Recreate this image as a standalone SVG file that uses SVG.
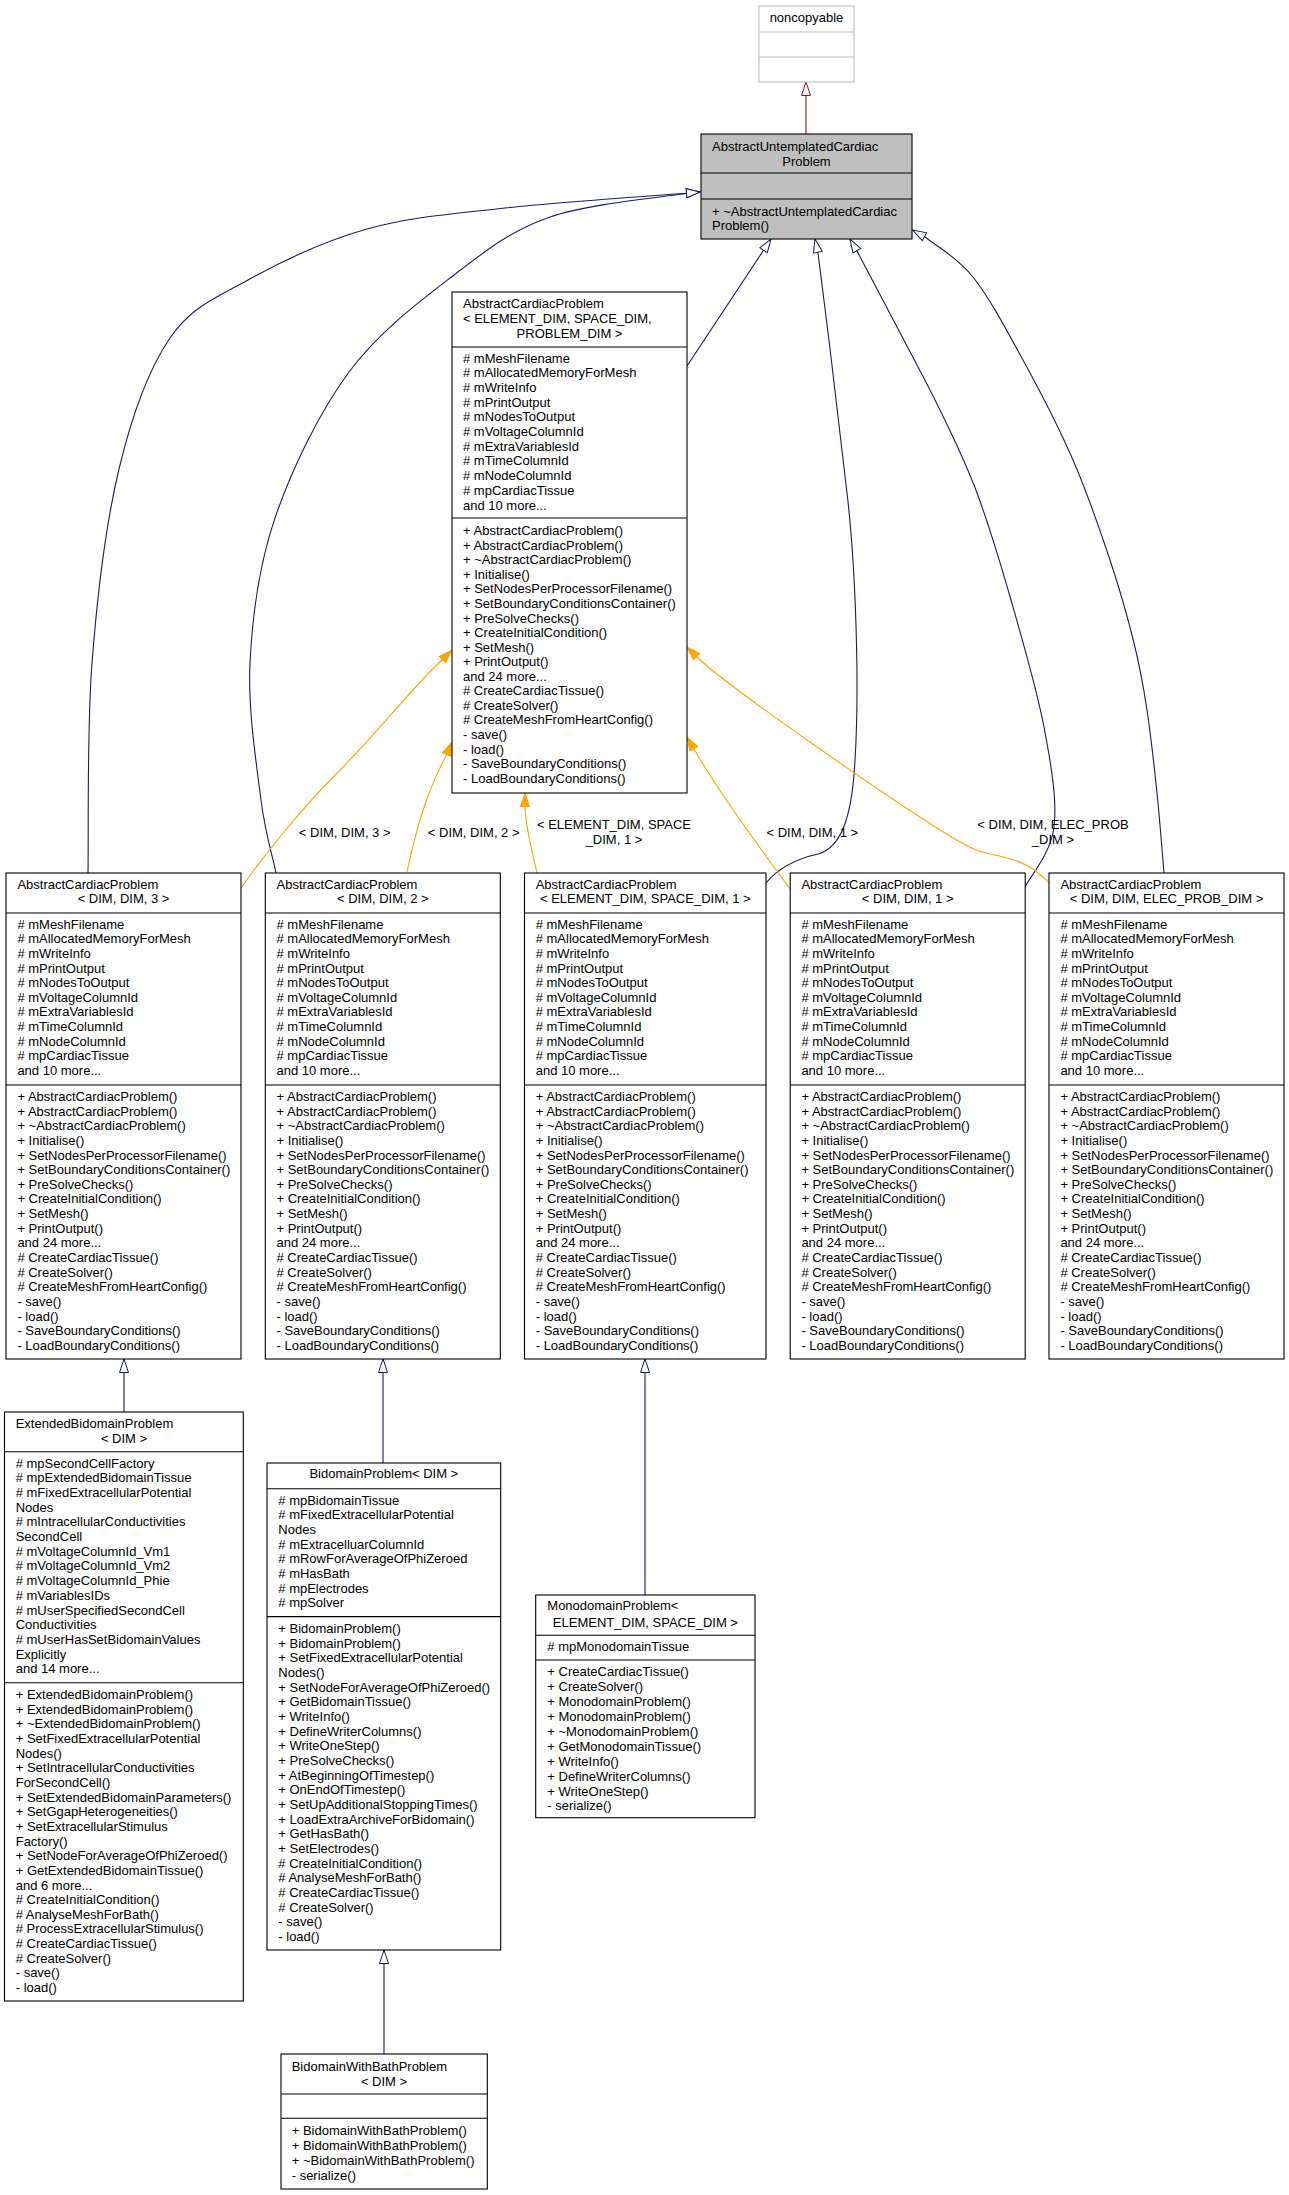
<svg xmlns="http://www.w3.org/2000/svg" width="1289" height="2195" viewBox="0 0 1289 2195">
<style>
.t{font-family:"Liberation Sans",Arial,Helvetica,sans-serif;font-size:13px;fill:#000}
.m{text-anchor:middle}
.box{fill:#fff;stroke:#000;stroke-width:1.1}
.sep{stroke:#000;stroke-width:1.1}
.blue{fill:none;stroke:#191970;stroke-width:1.1;marker-end:url(#ah-blue)}
.orange{fill:none;stroke:#ffa500;stroke-width:1.1;marker-end:url(#ah-orange)}
.red{fill:none;stroke:#8b1a1a;stroke-width:1.1;marker-end:url(#ah-red)}
</style>
<defs>
<marker id="ah-blue" viewBox="0 0 14 10" refX="14" refY="5" markerWidth="14" markerHeight="10" markerUnits="userSpaceOnUse" orient="auto" overflow="visible"><path d="M0.5,0.5 L14,5 L0.5,9.5 Z" fill="#fff" stroke="#191970" stroke-width="1"/></marker>
<marker id="ah-orange" viewBox="0 0 14 10" refX="14" refY="5" markerWidth="14" markerHeight="10" markerUnits="userSpaceOnUse" orient="auto" overflow="visible"><path d="M0.5,0.5 L14,5 L0.5,9.5 Z" fill="#ffa500" stroke="#ffa500" stroke-width="1"/></marker>
<marker id="ah-red" viewBox="0 0 14 10" refX="14" refY="5" markerWidth="14" markerHeight="10" markerUnits="userSpaceOnUse" orient="auto" overflow="visible"><path d="M0.5,0.5 L14,5 L0.5,9.5 Z" fill="#fff" stroke="#8b1a1a" stroke-width="1"/></marker>
</defs>
<rect width="1289" height="2195" fill="#fff"/>

<g id="connectors">
<path class="red" d="M806,134 L806,82"/>
<path class="blue" d="M687,366 L771,239"/>
<path class="blue" d="M88,873 C88.7,836.3 86.8,730 92,663 C97.2,596 106,523.2 119,469 C132,414.8 148.5,369.5 170,338 C191.5,306.5 215.2,298.2 248,280 C280.8,261.8 324.2,241 367,229 C409.8,217 451.3,214 505,208 C558.7,202 658.3,195.5 689,193 L700,192"/>
<path class="blue" d="M276,873 C273.5,859.2 265.3,834.7 261,800 C256.7,765.3 247.7,710 250,663 C252.3,616 258.5,566.5 275,518 C291.5,469.5 319.2,412.5 349,372 C378.8,331.5 420.5,300.8 454,275 C487.5,249.2 510.8,230.7 550,217 C589.2,203.3 665.8,197 689,193 L700,192"/>
<path class="blue" d="M766,883 C780,866 800,858 818,854 C840,848 852,820 855,760 C860,680 855,560 847,493 C840,430 828,330 818,253 L815,239"/>
<path class="blue" d="M1025,887 C1029.8,877 1050.8,853.7 1054,827 C1057.2,800.3 1051.2,764.8 1044,727 C1036.8,689.2 1022.2,639 1011,600 C999.8,561 988.8,524.7 977,493 C965.2,461.3 953.3,437.7 940,410 C926.7,382.3 910.8,353.5 897,327 C883.2,300.5 863.7,263.7 857,251 L850,239"/>
<path class="blue" d="M1164,873 C1162.8,858.8 1159.8,820 1157,793 C1154.2,766 1150.8,735 1147,710 C1143.2,685 1140.2,668 1134,643 C1127.8,618 1120.2,590.5 1110,560 C1099.8,529.5 1087.5,493.3 1073,460 C1058.5,426.7 1039.7,390.5 1023,360 C1006.3,329.5 989.3,297.5 973,277 C956.7,256.5 933,243.7 925,237 L912.7,230"/>
<path class="orange" d="M241,888 C262,858 300,810 340,770 C380,730 408,692 442,660 L452,650"/>
<path class="orange" d="M407,872 C415,835 425,795 446,756 L452,742"/>
<path class="orange" d="M537,873 C532,850 526,830 525,807 L525,793"/>
<path class="orange" d="M791,890 C765,855 720,795 694,749 L687,737"/>
<path class="orange" d="M1049,883 C1030,862 1010,858 990,854 C975,851 965,845 950,836 C900,806 725,685 697,657 L687,647"/>
<path class="blue" d="M124,1412 L124,1359"/>
<path class="blue" d="M383,1463 L383,1359"/>
<path class="blue" d="M645,1595 L645,1359"/>
<path class="blue" d="M384,2054 L384,1950"/>
<text class="t m" x="344.7" y="836.8">&lt; DIM, DIM, 3 &gt;</text>
<text class="t m" x="473.7" y="836.8">&lt; DIM, DIM, 2 &gt;</text>
<text class="t m" x="614" y="828.5">&lt; ELEMENT_DIM, SPACE</text>
<text class="t m" x="614" y="843.5">_DIM, 1 &gt;</text>
<text class="t m" x="812.3" y="837">&lt; DIM, DIM, 1 &gt;</text>
<text class="t m" x="1053" y="828.8">&lt; DIM, DIM, ELEC_PROB</text>
<text class="t m" x="1053" y="843.8">_DIM &gt;</text>
</g>

<g id="noncopyable">
<rect x="759" y="6" width="95" height="76" fill="#fff" stroke="#bfbfbf" stroke-width="1.1"/>
<line x1="759" y1="32" x2="854" y2="32" stroke="#bfbfbf" stroke-width="1.1"/>
<line x1="759" y1="57" x2="854" y2="57" stroke="#bfbfbf" stroke-width="1.1"/>
<text class="t m" x="806.5" y="22">noncopyable</text>
</g>

<g id="AbstractUntemplatedCardiacProblem">
<rect x="701" y="134" width="211" height="105" fill="#bfbfbf" stroke="#000" stroke-width="1.1"/>
<line class="sep" x1="701" y1="173" x2="912" y2="173"/>
<line class="sep" x1="701" y1="199" x2="912" y2="199"/>
<text class="t" x="712" y="150.5">AbstractUntemplatedCardiac</text>
<text class="t m" x="806.5" y="165.5">Problem</text>
<text class="t" x="712" y="215.5">+ ~AbstractUntemplatedCardiac</text>
<text class="t" x="712" y="230">Problem()</text>
</g>

<g id="AbstractCardiacProblem_E_S_P">
<rect class="box" x="452" y="292" width="235" height="501"/>
<line class="sep" x1="452" y1="347" x2="687" y2="347"/>
<line class="sep" x1="452" y1="518" x2="687" y2="518"/>
<text class="t" x="463" y="308">AbstractCardiacProblem</text>
<text class="t" x="463" y="323">&lt; ELEMENT_DIM, SPACE_DIM,</text>
<text class="t m" x="569.5" y="337.5">PROBLEM_DIM &gt;</text>
<text class="t" y="362.8"><tspan x="463"># mMeshFilename</tspan><tspan x="463" dy="14.67"># mAllocatedMemoryForMesh</tspan><tspan x="463" dy="14.67"># mWriteInfo</tspan><tspan x="463" dy="14.67"># mPrintOutput</tspan><tspan x="463" dy="14.67"># mNodesToOutput</tspan><tspan x="463" dy="14.67"># mVoltageColumnId</tspan><tspan x="463" dy="14.67"># mExtraVariablesId</tspan><tspan x="463" dy="14.67"># mTimeColumnId</tspan><tspan x="463" dy="14.67"># mNodeColumnId</tspan><tspan x="463" dy="14.67"># mpCardiacTissue</tspan><tspan x="463" dy="14.67">and 10 more...</tspan></text>
<text class="t" y="535.2"><tspan x="463">+ AbstractCardiacProblem()</tspan><tspan x="463" dy="14.56">+ AbstractCardiacProblem()</tspan><tspan x="463" dy="14.56">+ ~AbstractCardiacProblem()</tspan><tspan x="463" dy="14.56">+ Initialise()</tspan><tspan x="463" dy="14.56">+ SetNodesPerProcessorFilename()</tspan><tspan x="463" dy="14.56">+ SetBoundaryConditionsContainer()</tspan><tspan x="463" dy="14.56">+ PreSolveChecks()</tspan><tspan x="463" dy="14.56">+ CreateInitialCondition()</tspan><tspan x="463" dy="14.56">+ SetMesh()</tspan><tspan x="463" dy="14.56">+ PrintOutput()</tspan><tspan x="463" dy="14.56">and 24 more...</tspan><tspan x="463" dy="14.56"># CreateCardiacTissue()</tspan><tspan x="463" dy="14.56"># CreateSolver()</tspan><tspan x="463" dy="14.56"># CreateMeshFromHeartConfig()</tspan><tspan x="463" dy="14.56">- save()</tspan><tspan x="463" dy="14.56">- load()</tspan><tspan x="463" dy="14.56">- SaveBoundaryConditions()</tspan><tspan x="463" dy="14.56">- LoadBoundaryConditions()</tspan></text>
</g>

<g id="AbstractCardiacProblem_DIM_DIM_3">
<rect class="box" x="6" y="873" width="235" height="486"/>
<line class="sep" x1="6" y1="913" x2="241" y2="913"/>
<line class="sep" x1="6" y1="1085" x2="241" y2="1085"/>
<text class="t" x="17.4" y="889">AbstractCardiacProblem</text>
<text class="t m" x="123.5" y="903">&lt; DIM, DIM, 3 &gt;</text>
<text class="t" y="928.8"><tspan x="17.4"># mMeshFilename</tspan><tspan x="17.4" dy="14.61"># mAllocatedMemoryForMesh</tspan><tspan x="17.4" dy="14.61"># mWriteInfo</tspan><tspan x="17.4" dy="14.61"># mPrintOutput</tspan><tspan x="17.4" dy="14.61"># mNodesToOutput</tspan><tspan x="17.4" dy="14.61"># mVoltageColumnId</tspan><tspan x="17.4" dy="14.61"># mExtraVariablesId</tspan><tspan x="17.4" dy="14.61"># mTimeColumnId</tspan><tspan x="17.4" dy="14.61"># mNodeColumnId</tspan><tspan x="17.4" dy="14.61"># mpCardiacTissue</tspan><tspan x="17.4" dy="14.61">and 10 more...</tspan></text>
<text class="t" y="1100.9"><tspan x="17.4">+ AbstractCardiacProblem()</tspan><tspan x="17.4" dy="14.65">+ AbstractCardiacProblem()</tspan><tspan x="17.4" dy="14.65">+ ~AbstractCardiacProblem()</tspan><tspan x="17.4" dy="14.65">+ Initialise()</tspan><tspan x="17.4" dy="14.65">+ SetNodesPerProcessorFilename()</tspan><tspan x="17.4" dy="14.65">+ SetBoundaryConditionsContainer()</tspan><tspan x="17.4" dy="14.65">+ PreSolveChecks()</tspan><tspan x="17.4" dy="14.65">+ CreateInitialCondition()</tspan><tspan x="17.4" dy="14.65">+ SetMesh()</tspan><tspan x="17.4" dy="14.65">+ PrintOutput()</tspan><tspan x="17.4" dy="14.65">and 24 more...</tspan><tspan x="17.4" dy="14.65"># CreateCardiacTissue()</tspan><tspan x="17.4" dy="14.65"># CreateSolver()</tspan><tspan x="17.4" dy="14.65"># CreateMeshFromHeartConfig()</tspan><tspan x="17.4" dy="14.65">- save()</tspan><tspan x="17.4" dy="14.65">- load()</tspan><tspan x="17.4" dy="14.65">- SaveBoundaryConditions()</tspan><tspan x="17.4" dy="14.65">- LoadBoundaryConditions()</tspan></text>
</g>

<g id="AbstractCardiacProblem_DIM_DIM_2">
<rect class="box" x="265.3" y="873" width="235" height="486"/>
<line class="sep" x1="265.3" y1="913" x2="500.3" y2="913"/>
<line class="sep" x1="265.3" y1="1085" x2="500.3" y2="1085"/>
<text class="t" x="276.5" y="889">AbstractCardiacProblem</text>
<text class="t m" x="382.8" y="903">&lt; DIM, DIM, 2 &gt;</text>
<text class="t" y="928.8"><tspan x="276.5"># mMeshFilename</tspan><tspan x="276.5" dy="14.61"># mAllocatedMemoryForMesh</tspan><tspan x="276.5" dy="14.61"># mWriteInfo</tspan><tspan x="276.5" dy="14.61"># mPrintOutput</tspan><tspan x="276.5" dy="14.61"># mNodesToOutput</tspan><tspan x="276.5" dy="14.61"># mVoltageColumnId</tspan><tspan x="276.5" dy="14.61"># mExtraVariablesId</tspan><tspan x="276.5" dy="14.61"># mTimeColumnId</tspan><tspan x="276.5" dy="14.61"># mNodeColumnId</tspan><tspan x="276.5" dy="14.61"># mpCardiacTissue</tspan><tspan x="276.5" dy="14.61">and 10 more...</tspan></text>
<text class="t" y="1100.9"><tspan x="276.5">+ AbstractCardiacProblem()</tspan><tspan x="276.5" dy="14.65">+ AbstractCardiacProblem()</tspan><tspan x="276.5" dy="14.65">+ ~AbstractCardiacProblem()</tspan><tspan x="276.5" dy="14.65">+ Initialise()</tspan><tspan x="276.5" dy="14.65">+ SetNodesPerProcessorFilename()</tspan><tspan x="276.5" dy="14.65">+ SetBoundaryConditionsContainer()</tspan><tspan x="276.5" dy="14.65">+ PreSolveChecks()</tspan><tspan x="276.5" dy="14.65">+ CreateInitialCondition()</tspan><tspan x="276.5" dy="14.65">+ SetMesh()</tspan><tspan x="276.5" dy="14.65">+ PrintOutput()</tspan><tspan x="276.5" dy="14.65">and 24 more...</tspan><tspan x="276.5" dy="14.65"># CreateCardiacTissue()</tspan><tspan x="276.5" dy="14.65"># CreateSolver()</tspan><tspan x="276.5" dy="14.65"># CreateMeshFromHeartConfig()</tspan><tspan x="276.5" dy="14.65">- save()</tspan><tspan x="276.5" dy="14.65">- load()</tspan><tspan x="276.5" dy="14.65">- SaveBoundaryConditions()</tspan><tspan x="276.5" dy="14.65">- LoadBoundaryConditions()</tspan></text>
</g>

<g id="AbstractCardiacProblem_E_S_1">
<rect class="box" x="524.5" y="873" width="241.5" height="486"/>
<line class="sep" x1="524.5" y1="913" x2="766" y2="913"/>
<line class="sep" x1="524.5" y1="1085" x2="766" y2="1085"/>
<text class="t" x="535.7" y="889">AbstractCardiacProblem</text>
<text class="t m" x="645.3" y="903">&lt; ELEMENT_DIM, SPACE_DIM, 1 &gt;</text>
<text class="t" y="928.8"><tspan x="535.7"># mMeshFilename</tspan><tspan x="535.7" dy="14.61"># mAllocatedMemoryForMesh</tspan><tspan x="535.7" dy="14.61"># mWriteInfo</tspan><tspan x="535.7" dy="14.61"># mPrintOutput</tspan><tspan x="535.7" dy="14.61"># mNodesToOutput</tspan><tspan x="535.7" dy="14.61"># mVoltageColumnId</tspan><tspan x="535.7" dy="14.61"># mExtraVariablesId</tspan><tspan x="535.7" dy="14.61"># mTimeColumnId</tspan><tspan x="535.7" dy="14.61"># mNodeColumnId</tspan><tspan x="535.7" dy="14.61"># mpCardiacTissue</tspan><tspan x="535.7" dy="14.61">and 10 more...</tspan></text>
<text class="t" y="1100.9"><tspan x="535.7">+ AbstractCardiacProblem()</tspan><tspan x="535.7" dy="14.65">+ AbstractCardiacProblem()</tspan><tspan x="535.7" dy="14.65">+ ~AbstractCardiacProblem()</tspan><tspan x="535.7" dy="14.65">+ Initialise()</tspan><tspan x="535.7" dy="14.65">+ SetNodesPerProcessorFilename()</tspan><tspan x="535.7" dy="14.65">+ SetBoundaryConditionsContainer()</tspan><tspan x="535.7" dy="14.65">+ PreSolveChecks()</tspan><tspan x="535.7" dy="14.65">+ CreateInitialCondition()</tspan><tspan x="535.7" dy="14.65">+ SetMesh()</tspan><tspan x="535.7" dy="14.65">+ PrintOutput()</tspan><tspan x="535.7" dy="14.65">and 24 more...</tspan><tspan x="535.7" dy="14.65"># CreateCardiacTissue()</tspan><tspan x="535.7" dy="14.65"># CreateSolver()</tspan><tspan x="535.7" dy="14.65"># CreateMeshFromHeartConfig()</tspan><tspan x="535.7" dy="14.65">- save()</tspan><tspan x="535.7" dy="14.65">- load()</tspan><tspan x="535.7" dy="14.65">- SaveBoundaryConditions()</tspan><tspan x="535.7" dy="14.65">- LoadBoundaryConditions()</tspan></text>
</g>

<g id="AbstractCardiacProblem_DIM_DIM_1">
<rect class="box" x="790.2" y="873" width="235" height="486"/>
<line class="sep" x1="790.2" y1="913" x2="1025.2" y2="913"/>
<line class="sep" x1="790.2" y1="1085" x2="1025.2" y2="1085"/>
<text class="t" x="801.4" y="889">AbstractCardiacProblem</text>
<text class="t m" x="907.7" y="903">&lt; DIM, DIM, 1 &gt;</text>
<text class="t" y="928.8"><tspan x="801.4"># mMeshFilename</tspan><tspan x="801.4" dy="14.61"># mAllocatedMemoryForMesh</tspan><tspan x="801.4" dy="14.61"># mWriteInfo</tspan><tspan x="801.4" dy="14.61"># mPrintOutput</tspan><tspan x="801.4" dy="14.61"># mNodesToOutput</tspan><tspan x="801.4" dy="14.61"># mVoltageColumnId</tspan><tspan x="801.4" dy="14.61"># mExtraVariablesId</tspan><tspan x="801.4" dy="14.61"># mTimeColumnId</tspan><tspan x="801.4" dy="14.61"># mNodeColumnId</tspan><tspan x="801.4" dy="14.61"># mpCardiacTissue</tspan><tspan x="801.4" dy="14.61">and 10 more...</tspan></text>
<text class="t" y="1100.9"><tspan x="801.4">+ AbstractCardiacProblem()</tspan><tspan x="801.4" dy="14.65">+ AbstractCardiacProblem()</tspan><tspan x="801.4" dy="14.65">+ ~AbstractCardiacProblem()</tspan><tspan x="801.4" dy="14.65">+ Initialise()</tspan><tspan x="801.4" dy="14.65">+ SetNodesPerProcessorFilename()</tspan><tspan x="801.4" dy="14.65">+ SetBoundaryConditionsContainer()</tspan><tspan x="801.4" dy="14.65">+ PreSolveChecks()</tspan><tspan x="801.4" dy="14.65">+ CreateInitialCondition()</tspan><tspan x="801.4" dy="14.65">+ SetMesh()</tspan><tspan x="801.4" dy="14.65">+ PrintOutput()</tspan><tspan x="801.4" dy="14.65">and 24 more...</tspan><tspan x="801.4" dy="14.65"># CreateCardiacTissue()</tspan><tspan x="801.4" dy="14.65"># CreateSolver()</tspan><tspan x="801.4" dy="14.65"># CreateMeshFromHeartConfig()</tspan><tspan x="801.4" dy="14.65">- save()</tspan><tspan x="801.4" dy="14.65">- load()</tspan><tspan x="801.4" dy="14.65">- SaveBoundaryConditions()</tspan><tspan x="801.4" dy="14.65">- LoadBoundaryConditions()</tspan></text>
</g>

<g id="AbstractCardiacProblem_DIM_DIM_ELEC_PROB_DIM">
<rect class="box" x="1049" y="873" width="235" height="486"/>
<line class="sep" x1="1049" y1="913" x2="1284" y2="913"/>
<line class="sep" x1="1049" y1="1085" x2="1284" y2="1085"/>
<text class="t" x="1060.4" y="889">AbstractCardiacProblem</text>
<text class="t m" x="1166.5" y="903">&lt; DIM, DIM, ELEC_PROB_DIM &gt;</text>
<text class="t" y="928.8"><tspan x="1060.4"># mMeshFilename</tspan><tspan x="1060.4" dy="14.61"># mAllocatedMemoryForMesh</tspan><tspan x="1060.4" dy="14.61"># mWriteInfo</tspan><tspan x="1060.4" dy="14.61"># mPrintOutput</tspan><tspan x="1060.4" dy="14.61"># mNodesToOutput</tspan><tspan x="1060.4" dy="14.61"># mVoltageColumnId</tspan><tspan x="1060.4" dy="14.61"># mExtraVariablesId</tspan><tspan x="1060.4" dy="14.61"># mTimeColumnId</tspan><tspan x="1060.4" dy="14.61"># mNodeColumnId</tspan><tspan x="1060.4" dy="14.61"># mpCardiacTissue</tspan><tspan x="1060.4" dy="14.61">and 10 more...</tspan></text>
<text class="t" y="1100.9"><tspan x="1060.4">+ AbstractCardiacProblem()</tspan><tspan x="1060.4" dy="14.65">+ AbstractCardiacProblem()</tspan><tspan x="1060.4" dy="14.65">+ ~AbstractCardiacProblem()</tspan><tspan x="1060.4" dy="14.65">+ Initialise()</tspan><tspan x="1060.4" dy="14.65">+ SetNodesPerProcessorFilename()</tspan><tspan x="1060.4" dy="14.65">+ SetBoundaryConditionsContainer()</tspan><tspan x="1060.4" dy="14.65">+ PreSolveChecks()</tspan><tspan x="1060.4" dy="14.65">+ CreateInitialCondition()</tspan><tspan x="1060.4" dy="14.65">+ SetMesh()</tspan><tspan x="1060.4" dy="14.65">+ PrintOutput()</tspan><tspan x="1060.4" dy="14.65">and 24 more...</tspan><tspan x="1060.4" dy="14.65"># CreateCardiacTissue()</tspan><tspan x="1060.4" dy="14.65"># CreateSolver()</tspan><tspan x="1060.4" dy="14.65"># CreateMeshFromHeartConfig()</tspan><tspan x="1060.4" dy="14.65">- save()</tspan><tspan x="1060.4" dy="14.65">- load()</tspan><tspan x="1060.4" dy="14.65">- SaveBoundaryConditions()</tspan><tspan x="1060.4" dy="14.65">- LoadBoundaryConditions()</tspan></text>
</g>

<g id="ExtendedBidomainProblem">
<rect class="box" x="4.5" y="1412" width="238.8" height="589"/>
<line class="sep" x1="4.5" y1="1451.7" x2="243.3" y2="1451.7"/>
<line class="sep" x1="4.5" y1="1682.8" x2="243.3" y2="1682.8"/>
<text class="t" x="15.7" y="1428.2">ExtendedBidomainProblem</text>
<text class="t m" x="124" y="1442.8">&lt; DIM &gt;</text>
<text class="t" y="1467.6"><tspan x="15.7"># mpSecondCellFactory</tspan><tspan x="15.7" dy="14.69"># mpExtendedBidomainTissue</tspan><tspan x="15.7" dy="14.69"># mFixedExtracellularPotential</tspan><tspan x="15.7" dy="14.69">Nodes</tspan><tspan x="15.7" dy="14.69"># mIntracellularConductivities</tspan><tspan x="15.7" dy="14.69">SecondCell</tspan><tspan x="15.7" dy="14.69"># mVoltageColumnId_Vm1</tspan><tspan x="15.7" dy="14.69"># mVoltageColumnId_Vm2</tspan><tspan x="15.7" dy="14.69"># mVoltageColumnId_Phie</tspan><tspan x="15.7" dy="14.69"># mVariablesIDs</tspan><tspan x="15.7" dy="14.69"># mUserSpecifiedSecondCell</tspan><tspan x="15.7" dy="14.69">Conductivities</tspan><tspan x="15.7" dy="14.69"># mUserHasSetBidomainValues</tspan><tspan x="15.7" dy="14.69">Explicitly</tspan><tspan x="15.7" dy="14.69">and 14 more...</tspan></text>
<text class="t" y="1699.2"><tspan x="15.7">+ ExtendedBidomainProblem()</tspan><tspan x="15.7" dy="14.64">+ ExtendedBidomainProblem()</tspan><tspan x="15.7" dy="14.64">+ ~ExtendedBidomainProblem()</tspan><tspan x="15.7" dy="14.64">+ SetFixedExtracellularPotential</tspan><tspan x="15.7" dy="14.64">Nodes()</tspan><tspan x="15.7" dy="14.64">+ SetIntracellularConductivities</tspan><tspan x="15.7" dy="14.64">ForSecondCell()</tspan><tspan x="15.7" dy="14.64">+ SetExtendedBidomainParameters()</tspan><tspan x="15.7" dy="14.64">+ SetGgapHeterogeneities()</tspan><tspan x="15.7" dy="14.64">+ SetExtracellularStimulus</tspan><tspan x="15.7" dy="14.64">Factory()</tspan><tspan x="15.7" dy="14.64">+ SetNodeForAverageOfPhiZeroed()</tspan><tspan x="15.7" dy="14.64">+ GetExtendedBidomainTissue()</tspan><tspan x="15.7" dy="14.64">and 6 more...</tspan><tspan x="15.7" dy="14.64"># CreateInitialCondition()</tspan><tspan x="15.7" dy="14.64"># AnalyseMeshForBath()</tspan><tspan x="15.7" dy="14.64"># ProcessExtracellularStimulus()</tspan><tspan x="15.7" dy="14.64"># CreateCardiacTissue()</tspan><tspan x="15.7" dy="14.64"># CreateSolver()</tspan><tspan x="15.7" dy="14.64">- save()</tspan><tspan x="15.7" dy="14.64">- load()</tspan></text>
</g>

<g id="BidomainProblem">
<rect class="box" x="267" y="1463" width="233.7" height="487"/>
<line class="sep" x1="267" y1="1488.8" x2="500.7" y2="1488.8"/>
<line class="sep" x1="267" y1="1616.6" x2="500.7" y2="1616.6"/>
<text class="t m" x="383.8" y="1478.4">BidomainProblem&lt; DIM &gt;</text>
<text class="t" y="1504.8"><tspan x="278.3"># mpBidomainTissue</tspan><tspan x="278.3" dy="14.64"># mFixedExtracellularPotential</tspan><tspan x="278.3" dy="14.64">Nodes</tspan><tspan x="278.3" dy="14.64"># mExtracelluarColumnId</tspan><tspan x="278.3" dy="14.64"># mRowForAverageOfPhiZeroed</tspan><tspan x="278.3" dy="14.64"># mHasBath</tspan><tspan x="278.3" dy="14.64"># mpElectrodes</tspan><tspan x="278.3" dy="14.64"># mpSolver</tspan></text>
<text class="t" y="1633"><tspan x="278.3">+ BidomainProblem()</tspan><tspan x="278.3" dy="14.67">+ BidomainProblem()</tspan><tspan x="278.3" dy="14.67">+ SetFixedExtracellularPotential</tspan><tspan x="278.3" dy="14.67">Nodes()</tspan><tspan x="278.3" dy="14.67">+ SetNodeForAverageOfPhiZeroed()</tspan><tspan x="278.3" dy="14.67">+ GetBidomainTissue()</tspan><tspan x="278.3" dy="14.67">+ WriteInfo()</tspan><tspan x="278.3" dy="14.67">+ DefineWriterColumns()</tspan><tspan x="278.3" dy="14.67">+ WriteOneStep()</tspan><tspan x="278.3" dy="14.67">+ PreSolveChecks()</tspan><tspan x="278.3" dy="14.67">+ AtBeginningOfTimestep()</tspan><tspan x="278.3" dy="14.67">+ OnEndOfTimestep()</tspan><tspan x="278.3" dy="14.67">+ SetUpAdditionalStoppingTimes()</tspan><tspan x="278.3" dy="14.67">+ LoadExtraArchiveForBidomain()</tspan><tspan x="278.3" dy="14.67">+ GetHasBath()</tspan><tspan x="278.3" dy="14.67">+ SetElectrodes()</tspan><tspan x="278.3" dy="14.67"># CreateInitialCondition()</tspan><tspan x="278.3" dy="14.67"># AnalyseMeshForBath()</tspan><tspan x="278.3" dy="14.67"># CreateCardiacTissue()</tspan><tspan x="278.3" dy="14.67"># CreateSolver()</tspan><tspan x="278.3" dy="14.67">- save()</tspan><tspan x="278.3" dy="14.67">- load()</tspan></text>
</g>

<g id="MonodomainProblem">
<rect class="box" x="535.7" y="1595" width="219.3" height="222.7"/>
<line class="sep" x1="535.7" y1="1635.3" x2="755" y2="1635.3"/>
<line class="sep" x1="535.7" y1="1660" x2="755" y2="1660"/>
<text class="t" x="547.3" y="1609.5">MonodomainProblem&lt;</text>
<text class="t m" x="645.4" y="1627">ELEMENT_DIM, SPACE_DIM &gt;</text>
<text class="t" x="547.3" y="1651.2"># mpMonodomainTissue</text>
<text class="t" y="1676.2"><tspan x="547.3">+ CreateCardiacTissue()</tspan><tspan x="547.3" dy="14.92">+ CreateSolver()</tspan><tspan x="547.3" dy="14.92">+ MonodomainProblem()</tspan><tspan x="547.3" dy="14.92">+ MonodomainProblem()</tspan><tspan x="547.3" dy="14.92">+ ~MonodomainProblem()</tspan><tspan x="547.3" dy="14.92">+ GetMonodomainTissue()</tspan><tspan x="547.3" dy="14.92">+ WriteInfo()</tspan><tspan x="547.3" dy="14.92">+ DefineWriterColumns()</tspan><tspan x="547.3" dy="14.92">+ WriteOneStep()</tspan><tspan x="547.3" dy="14.92">- serialize()</tspan></text>
</g>

<g id="BidomainWithBathProblem">
<rect class="box" x="281" y="2054" width="206.3" height="135"/>
<line class="sep" x1="281" y1="2094" x2="487.3" y2="2094"/>
<line class="sep" x1="281" y1="2118.3" x2="487.3" y2="2118.3"/>
<text class="t" x="291.7" y="2070.5">BidomainWithBathProblem</text>
<text class="t m" x="384" y="2085.5">&lt; DIM &gt;</text>
<text class="t" y="2135.2"><tspan x="291.7">+ BidomainWithBathProblem()</tspan><tspan x="291.7" dy="14.8">+ BidomainWithBathProblem()</tspan><tspan x="291.7" dy="14.8">+ ~BidomainWithBathProblem()</tspan><tspan x="291.7" dy="14.8">- serialize()</tspan></text>
</g>
</svg>
